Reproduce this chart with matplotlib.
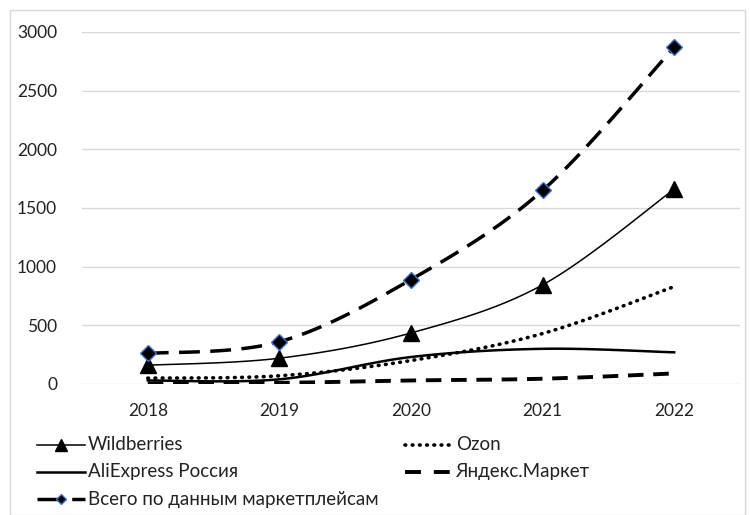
import numpy as np
import matplotlib.pyplot as plt
from matplotlib.patches import Rectangle

plt.rcParams['font.family'] = ['Lato', 'DejaVu Sans']

years = ['2018', '2019', '2020', '2021', '2022']
wildberries = [160, 220, 435, 845, 1660]
ozon = [50, 70, 200, 430, 830]
aliexpress = [30, 40, 230, 300, 270]
yandex = [5, 10, 30, 45, 90]
total = [260, 360, 890, 1650, 2870]


def smooth(xs, ys, n=30):
    # Catmull-Rom style smoothing like Excel's smoothed lines
    xs = np.asarray(xs, float)
    ys = np.asarray(ys, float)
    px = np.concatenate([[xs[0]], xs, [xs[-1]]])
    py = np.concatenate([[ys[0]], ys, [ys[-1]]])
    outx, outy = [], []
    t = np.linspace(0, 1, n)
    for i in range(1, len(px) - 2):
        p0 = np.array([px[i], py[i]])
        p3 = np.array([px[i + 1], py[i + 1]])
        p1 = p0 + (np.array([px[i + 1], py[i + 1]]) - np.array([px[i - 1], py[i - 1]])) / 6
        p2 = p3 - (np.array([px[i + 2], py[i + 2]]) - np.array([px[i], py[i]])) / 6
        b = ((1 - t) ** 3)[:, None] * p0 + (3 * (1 - t) ** 2 * t)[:, None] * p1 \
            + (3 * (1 - t) * t ** 2)[:, None] * p2 + (t ** 3)[:, None] * p3
        outx.extend(b[:, 0])
        outy.extend(b[:, 1])
    return np.array(outx), np.array(outy)


fig = plt.figure(figsize=(7.5, 5.15), dpi=100)
ax = fig.add_axes([82 / 750, 1 - 384 / 515, 658 / 750, 352 / 515])
x = np.arange(len(years))

dot = (0, (0.2, 1.8))

sx, sy = smooth(x, yandex)
ax.plot(sx, sy, color='black', lw=2.8, ls=(0, (4, 2.5)), solid_capstyle='butt')
sx, sy = smooth(x, aliexpress)
ax.plot(sx, sy, color='black', lw=1.8)
sx, sy = smooth(x, ozon)
ax.plot(sx, sy, color='black', lw=2.6, ls=dot, dash_capstyle='round')
sx, sy = smooth(x, wildberries)
ax.plot(sx, sy, color='black', lw=1.1)
ax.plot(x, wildberries, ls='none', marker='^', ms=12, color='black')
sx, sy = smooth(x, total)
ax.plot(sx, sy, color='black', lw=2.5, ls=(0, (6, 3)))
ax.plot(x, total, ls='none', marker='D', ms=8, mfc='black', mec='#4472C4', mew=1)

ax.set_xlim(-0.5, 4.5)
ax.set_ylim(0, 3000)
ax.set_yticks(range(0, 3001, 500))
ax.set_xticks(x)
ax.set_xticklabels(years)
ax.grid(axis='y', color='#d9d9d9', lw=1)
ax.set_axisbelow(True)
for s in ax.spines.values():
    s.set_visible(False)
ax.tick_params(length=0, labelsize=12.5, colors='#222222')
ax.tick_params(axis='y', pad=18)
ax.tick_params(axis='x', pad=14)

# legend drawn by hand in figure pixels: (label, line style, marker style, x0, x1, text x, y)
legend_items = [
    ('Wildberries', dict(lw=1.1), dict(marker='^', ms=8, mfc='black', mec='black'),
     37, 85, 88, 445),
    ('Ozon', dict(lw=2.6, ls=dot, dash_capstyle='round'), None, 405, 450, 456, 445),
    ('AliExpress Россия', dict(lw=1.8), None, 37, 85, 88, 472),
    ('Яндекс.Маркет', dict(lw=2.8, ls=(0, (4.1, 3.3))), None, 405, 450, 456, 472),
    ('Всего по данным маркетплейсам', dict(lw=2.5, ls=(0, (7, 3))),
     dict(marker='D', ms=5, mfc='black', mec='#4472C4'), 37, 85, 88, 499),
]
for label, lstyle, mstyle, x0, x1, tx, ly in legend_items:
    yy = 1 - ly / 515
    fig.add_artist(plt.Line2D([x0 / 750, x1 / 750], [yy, yy], color='black',
                              transform=fig.transFigure, **lstyle))
    if mstyle:
        fig.add_artist(plt.Line2D([(x0 + x1) / 2 / 750], [yy], transform=fig.transFigure,
                                  ls='none', **mstyle))
    fig.text(tx / 750, yy, label, va='center', ha='left', fontsize=13.5, color='#222222')

fig.add_artist(Rectangle((10 / 750, 0), 735 / 750, 1 - 10 / 515, transform=fig.transFigure,
                         fill=False, ec='#d9d9d9', lw=1))

fig.savefig('out.png', dpi=100)
